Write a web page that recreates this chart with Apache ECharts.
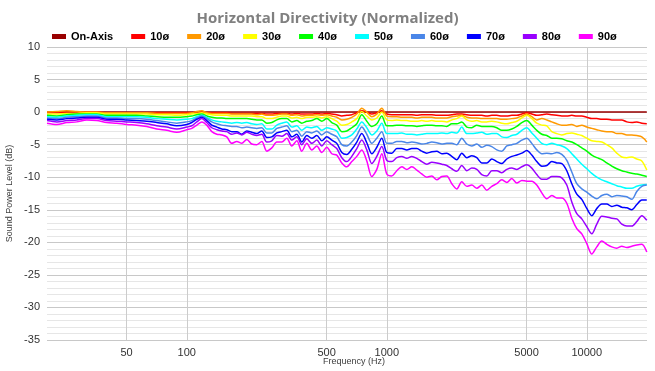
<!DOCTYPE html>
<html>
<head>
<meta charset="utf-8">
<script src="https://cdn.jsdelivr.net/npm/echarts@6/dist/echarts.min.js"></script>
<style>html,body{margin:0;padding:0;background:#fff;}#c{width:655px;height:371px;}</style>
</head>
<body>
<div id="c"></div>
<script>
// Frequencies (Hz)
var freqs = [20, 22.4, 25.1, 28.2, 31.6, 35.5, 39.8, 44.7, 50.1, 56.2, 63.1, 70.8, 79.4, 89.1, 100,
  105.9, 112.2, 118.9, 125.9, 133.4, 141.3, 149.6, 158.5, 167.9, 177.8, 188.4, 199.5, 211.3, 223.9, 237.1, 251.2, 266.1, 281.8, 298.5, 316.2, 335, 354.8, 375.8, 398.1, 421.7, 446.7, 473.2, 501.2, 530.9, 562.3,
  595.7, 631, 668.3, 707.9, 749.9, 794.3, 841.4, 891.3, 944.1, 1000, 1059, 1122, 1189, 1259, 1334, 1413, 1496, 1585, 1679, 1778, 1884, 1995, 2113, 2239, 2371, 2512, 2661, 2818, 2985, 3162, 3350, 3548, 3758, 3981, 4217, 4467, 4732, 5012,
  5309, 5623, 5957, 6310, 6683, 7079, 7499, 7943, 8414, 8913, 9441, 10000, 10593, 11220, 11885, 12589, 13335, 14125, 14962, 15849, 16788, 17783, 18836, 19953];

var seriesNames = ['On-Axis', '10ø', '20ø', '30ø', '40ø', '50ø', '60ø', '70ø', '80ø', '90ø'];
var xTickValues = [50, 100, 500, 1000, 5000, 10000];

var onAxis = [0,0,0,0,0,0,0,0,0,0,0,0,0,0,0,
  0,0,0,0,0,0,0,0,0,0,0,0,0,0,0,0,0,0,0,0,0,0,0,0,0,0,0,0,0,0,
  0,0,0,0,0,0,0,0,0,0,0,0,0,0,0,0,0,0,0,0,0,0,0,0,0,0,0,0,0,0,0,0,0,0,0,0,0,0,
  0,0,0,0,0,0,0,0,0,0,0,0,0,0,0,0,0,0,0,0,0,0,0,0];

var deg10 = [-0.1, -0.1, 0.0, 0.0, 0.0, 0.0, -0.1, -0.1, -0.1, -0.1, -0.1, -0.1, -0.1, -0.1, -0.1,
  -0.1, 0.0, 0.0, -0.1, -0.1, -0.1, -0.1, -0.1, -0.2, -0.2, -0.2, -0.2, -0.2, -0.2, -0.2, -0.3, -0.3, -0.2, -0.2, -0.2, -0.3, -0.2, -0.3, -0.3, -0.3, -0.2, -0.3, -0.2, -0.3, -0.4,
  -0.6, -0.5, -0.4, -0.1, 0.2, 0.0, -0.3, -0.1, 0.2, -0.3, -0.4, -0.4, -0.4, -0.4, -0.4, -0.5, -0.4, -0.4, -0.4, -0.5, -0.5, -0.5, -0.4, -0.3, -0.3, -0.4, -0.5, -0.5, -0.5, -0.6, -0.5, -0.5, -0.6, -0.6, -0.5, -0.5, -0.3, -0.1,
  -0.3, -0.5, -0.4, -0.3, -0.4, -0.5, -0.6, -0.6, -0.5, -0.6, -0.6, -0.8, -1.0, -1.0, -1.1, -1.1, -1.2, -1.2, -1.2, -1.5, -1.6, -1.5, -1.7, -1.8];

var deg20 = [0.0, 0.1, 0.2, 0.1, 0.0, 0.0, -0.1, -0.1, -0.1, -0.1, -0.1, -0.2, -0.2, -0.2, -0.2,
  -0.1, 0.1, 0.2, -0.1, -0.2, -0.2, -0.2, -0.2, -0.3, -0.3, -0.3, -0.3, -0.3, -0.4, -0.3, -0.5, -0.5, -0.4, -0.3, -0.3, -0.5, -0.4, -0.6, -0.5, -0.5, -0.4, -0.5, -0.4, -0.6, -0.8,
  -1.2, -1.1, -0.8, -0.3, 0.6, 0.0, -0.7, -0.3, 0.6, -0.6, -0.7, -0.7, -0.8, -0.8, -0.8, -0.9, -0.8, -0.8, -0.8, -0.9, -0.9, -0.9, -0.7, -0.6, -0.5, -0.8, -0.9, -0.9, -1.0, -1.0, -1.0, -1.0, -1.1, -1.1, -1.0, -0.9, -0.6, -0.3,
  -0.7, -1.2, -1.0, -1.2, -1.5, -1.8, -2.0, -2.0, -1.9, -2.2, -2.0, -2.3, -2.5, -2.7, -2.9, -3.0, -3.0, -3.3, -3.3, -3.5, -3.5, -3.6, -3.8, -4.6];

var deg30 = [-0.3, -0.3, -0.2, -0.2, -0.1, -0.1, -0.3, -0.3, -0.3, -0.3, -0.3, -0.4, -0.4, -0.5, -0.4,
  -0.3, -0.2, -0.1, -0.3, -0.4, -0.5, -0.5, -0.5, -0.6, -0.6, -0.6, -0.6, -0.6, -0.7, -0.7, -1.0, -1.0, -0.8, -0.6, -0.6, -0.9, -0.8, -1.0, -0.8, -0.8, -0.7, -0.9, -0.7, -1.0, -1.4,
  -2.0, -1.9, -1.5, -1.0, 0.1, -0.6, -1.2, -0.9, 0.0, -1.2, -1.3, -1.2, -1.3, -1.3, -1.4, -1.4, -1.3, -1.4, -1.3, -1.4, -1.4, -1.5, -1.2, -1.0, -0.6, -1.2, -1.4, -1.3, -1.5, -1.5, -1.4, -1.5, -1.7, -1.8, -1.6, -1.4, -0.9, -0.5,
  -1.0, -1.7, -2.0, -2.1, -3.0, -3.3, -3.5, -3.3, -3.2, -3.4, -3.6, -4.0, -4.4, -4.5, -4.6, -5.0, -5.5, -6.3, -6.9, -7.0, -6.9, -7.2, -7.5, -8.9];

var deg40 = [-0.5, -0.6, -0.4, -0.3, -0.3, -0.3, -0.5, -0.5, -0.5, -0.5, -0.6, -0.7, -0.8, -0.8, -0.7,
  -0.6, -0.4, -0.3, -0.6, -0.8, -0.9, -0.9, -1.0, -1.0, -1.0, -1.0, -1.0, -1.1, -1.2, -1.2, -1.7, -1.6, -1.2, -1.0, -1.0, -1.5, -1.3, -1.7, -1.4, -1.3, -1.0, -1.4, -1.0, -1.6, -2.0,
  -3.0, -2.9, -2.4, -1.8, -0.4, -1.4, -2.2, -1.8, -0.6, -2.1, -2.1, -2.0, -2.0, -2.1, -2.1, -2.2, -2.1, -2.0, -2.0, -2.1, -2.1, -2.2, -1.8, -1.8, -1.5, -2.3, -2.4, -2.0, -2.2, -2.2, -2.2, -2.4, -2.8, -2.8, -2.6, -2.2, -1.6, -1.3,
  -2.0, -2.8, -3.4, -3.6, -4.0, -4.0, -4.1, -4.4, -4.6, -5.0, -5.5, -6.0, -6.6, -7.0, -7.3, -7.8, -8.3, -8.7, -9.0, -9.2, -9.4, -9.5, -9.7, -9.9];

var deg50 = [-0.7, -0.8, -0.6, -0.5, -0.4, -0.4, -0.7, -0.7, -0.7, -0.7, -0.8, -1.0, -1.1, -1.2, -1.1,
  -1.0, -0.7, -0.5, -0.8, -1.2, -1.4, -1.5, -1.6, -1.7, -1.6, -1.7, -1.6, -1.8, -1.9, -1.8, -2.6, -2.6, -2.0, -1.7, -1.5, -2.3, -2.1, -2.8, -2.3, -2.4, -2.2, -2.8, -2.4, -2.6, -2.9,
  -4.0, -3.9, -3.5, -2.6, -1.5, -2.4, -3.5, -2.9, -1.7, -3.3, -3.3, -3.3, -3.2, -3.4, -3.4, -3.5, -3.4, -3.3, -3.3, -3.3, -3.2, -3.3, -3.1, -3.2, -2.3, -3.3, -3.3, -3.2, -3.1, -3.4, -3.3, -3.3, -3.8, -3.9, -3.6, -3.4, -2.8, -2.4,
  -3.2, -4.0, -4.8, -5.0, -4.8, -5.0, -5.2, -5.6, -6.4, -7.2, -8.0, -8.7, -9.4, -10.0, -10.4, -10.7, -11.0, -11.3, -11.5, -11.7, -11.7, -11.4, -11.2, -11.1];

var deg60 = [-0.9, -1.0, -0.8, -0.7, -0.6, -0.6, -0.9, -0.9, -1.0, -1.0, -1.1, -1.3, -1.5, -1.7, -1.5,
  -1.3, -0.9, -0.6, -1.0, -1.5, -1.8, -2.0, -2.1, -2.2, -2.2, -2.4, -2.3, -2.4, -2.5, -2.4, -3.2, -3.2, -2.5, -2.3, -2.1, -3.0, -2.8, -3.7, -3.0, -3.2, -2.9, -3.5, -3.0, -3.4, -3.8,
  -5.0, -5.2, -4.6, -3.6, -2.3, -3.4, -4.8, -4.0, -3.0, -4.8, -4.8, -4.5, -4.5, -4.7, -4.6, -4.7, -4.9, -4.8, -4.6, -4.7, -4.9, -4.8, -4.8, -5.0, -4.0, -4.9, -5.2, -4.9, -5.4, -5.1, -5.3, -5.8, -6.0, -5.2, -5.0, -4.8, -4.3, -4.0,
  -4.8, -5.8, -6.4, -6.3, -6.4, -6.2, -6.5, -7.4, -9.2, -11.0, -11.8, -12.3, -12.9, -13.3, -12.8, -12.6, -13.0, -12.8, -12.9, -13.0, -13.4, -12.2, -11.4, -11.2];

var deg70 = [-1.1, -1.2, -1.0, -0.9, -0.8, -0.8, -1.1, -1.1, -1.2, -1.3, -1.4, -1.6, -1.8, -2.1, -1.9,
  -1.6, -1.1, -0.8, -1.3, -2.0, -2.3, -2.6, -2.7, -3.0, -3.0, -3.4, -2.9, -3.1, -3.3, -2.9, -3.9, -3.8, -3.2, -3.0, -2.8, -3.8, -3.4, -4.6, -3.6, -4.0, -3.6, -4.4, -3.8, -4.3, -4.8,
  -6.2, -6.5, -5.7, -4.6, -3.3, -4.7, -6.4, -5.4, -4.0, -6.2, -6.3, -5.6, -5.6, -5.8, -5.6, -5.6, -6.0, -6.3, -6.1, -6.0, -6.4, -6.3, -6.8, -7.3, -6.3, -7.0, -6.7, -7.0, -7.8, -7.8, -7.2, -7.6, -7.9, -7.2, -6.8, -6.6, -6.3, -5.9,
  -6.6, -7.6, -8.3, -8.2, -7.6, -7.8, -7.9, -9.0, -11.0, -12.6, -13.4, -14.8, -15.9, -14.8, -14.1, -14.1, -14.5, -14.3, -14.6, -14.7, -15.0, -14.2, -13.5, -13.5];

var deg80 = [-1.3, -1.5, -1.3, -1.2, -1.0, -1.0, -1.3, -1.4, -1.5, -1.6, -1.8, -2.1, -2.3, -2.6, -2.3,
  -2.1, -1.5, -1.0, -1.6, -2.4, -2.7, -2.9, -3.0, -3.4, -3.2, -3.5, -3.1, -3.4, -3.6, -3.4, -4.6, -4.4, -3.6, -3.7, -3.3, -4.3, -3.8, -5.0, -4.1, -4.8, -4.3, -5.2, -4.4, -5.0, -5.6,
  -7.0, -7.6, -6.8, -5.6, -4.3, -5.8, -7.9, -6.8, -5.3, -7.4, -7.6, -7.0, -6.8, -7.1, -6.8, -7.1, -7.6, -8.0, -7.7, -7.8, -8.0, -8.2, -8.7, -9.1, -8.2, -9.0, -8.6, -8.8, -9.6, -9.8, -9.0, -9.0, -9.3, -8.8, -8.6, -8.8, -8.4, -8.1,
  -8.6, -9.6, -10.3, -10.3, -9.9, -9.9, -10.1, -11.2, -13.8, -15.6, -16.4, -17.6, -18.7, -17.2, -16.0, -16.1, -16.3, -16.4, -17.2, -17.5, -17.5, -16.8, -15.9, -16.6];

var deg90 = [-1.7, -1.9, -1.6, -1.5, -1.2, -1.3, -1.6, -1.7, -1.9, -2.0, -2.2, -2.6, -2.8, -3.1, -2.7,
  -2.5, -2.0, -1.5, -2.0, -3.0, -3.4, -3.5, -3.8, -4.8, -4.5, -4.8, -4.2, -4.9, -5.0, -4.5, -6.0, -5.5, -4.6, -4.6, -4.0, -5.2, -4.4, -6.0, -4.8, -5.8, -5.2, -6.2, -5.4, -6.4, -6.6,
  -7.8, -8.4, -7.6, -6.8, -5.8, -7.5, -9.9, -8.8, -6.4, -9.5, -9.8, -9.0, -8.4, -8.8, -8.4, -8.9, -9.5, -10.0, -9.8, -10.4, -9.9, -9.8, -11.0, -11.8, -10.7, -11.4, -11.2, -11.7, -11.2, -12.0, -11.4, -11.0, -10.4, -10.8, -10.2, -10.9, -10.5, -10.6,
  -10.6, -11.2, -12.4, -13.3, -12.8, -13.2, -13.2, -14.0, -16.3, -17.9, -18.7, -20.2, -21.8, -20.7, -19.8, -20.3, -20.7, -20.9, -20.6, -20.8, -20.6, -20.4, -20.3, -21.5];

var allSeries = [onAxis, deg10, deg20, deg30, deg40, deg50, deg60, deg70, deg80, deg90];
var colors = ['#990000', '#ff0000', '#ff9900', '#ffff00', '#00ff00', '#00ffff', '#4a86e8', '#0000ff', '#9900ff', '#ff00ff'];

var chart = echarts.init(document.getElementById('c'), null, {renderer: 'canvas'});
var series = allSeries.map(function (vals, i) {
  return {
    name: seriesNames[i],
    type: 'line',
    showSymbol: false,
    symbol: 'none',
    smooth: 0.3,
    lineStyle: {width: 1.5, color: colors[i]},
    itemStyle: {color: colors[i]},
    data: freqs.map(function (f, j) { return [f, vals[j]]; }),
    animation: false
  };
});

chart.setOption({
  animation: false,
  color: colors,
  title: {
    text: 'Horizontal Directivity (Normalized)',
    left: 'center',
    top: 6,
    textStyle: {fontFamily: 'Open Sans', fontWeight: 'bold', fontSize: 15, color: '#808080'}
  },
  legend: {
    data: seriesNames,
    left: 52,
    top: 31,
    padding: 0,
    itemGap: 18,
    itemWidth: 14,
    itemHeight: 5,
    icon: 'rect',
    textStyle: {fontFamily: 'Liberation Sans', fontWeight: 'bold', fontSize: 11, color: '#000'}
  },
  grid: {left: 47, right: 8, top: 47, bottom: 31, containLabel: false, outerBoundsMode: 'none'},
  xAxis: {
    type: 'log',
    logBase: 10,
    min: 20,
    max: 20000,
    name: 'Frequency (Hz)',
    nameLocation: 'middle',
    nameGap: 17,
    nameMoveOverlap: false,
    nameTextStyle: {fontFamily: 'Liberation Sans', fontSize: 9, color: '#404040', padding: [0, 0, 0, 14]},
    axisLine: {show: false},
    axisTick: {show: false, customValues: xTickValues},
    axisLabel: {customValues: xTickValues, fontFamily: 'Liberation Sans', fontSize: 11, color: '#333', margin: 7,
      formatter: function (v) { return String(v); }},
    splitLine: {show: true, lineStyle: {color: '#cccccc', width: 1}},
    minorSplitLine: {show: false}
  },
  yAxis: {
    type: 'value',
    min: -35,
    max: 10,
    interval: 5,
    name: 'Sound Power Level (dB)',
    nameLocation: 'middle',
    nameGap: 33,
    nameMoveOverlap: false,
    nameTextStyle: {fontFamily: 'Liberation Sans', fontSize: 9, color: '#404040'},
    axisLine: {show: false},
    axisTick: {show: false},
    axisLabel: {fontFamily: 'Liberation Sans', fontSize: 11, color: '#333', margin: 7},
    splitLine: {show: true, lineStyle: {color: '#c8c8c8', width: 1}},
    minorTick: {show: false, splitNumber: 5},
    minorSplitLine: {show: true, lineStyle: {color: '#e6e6e6', width: 1}}
  },
  series: series
});
</script>
</body>
</html>
